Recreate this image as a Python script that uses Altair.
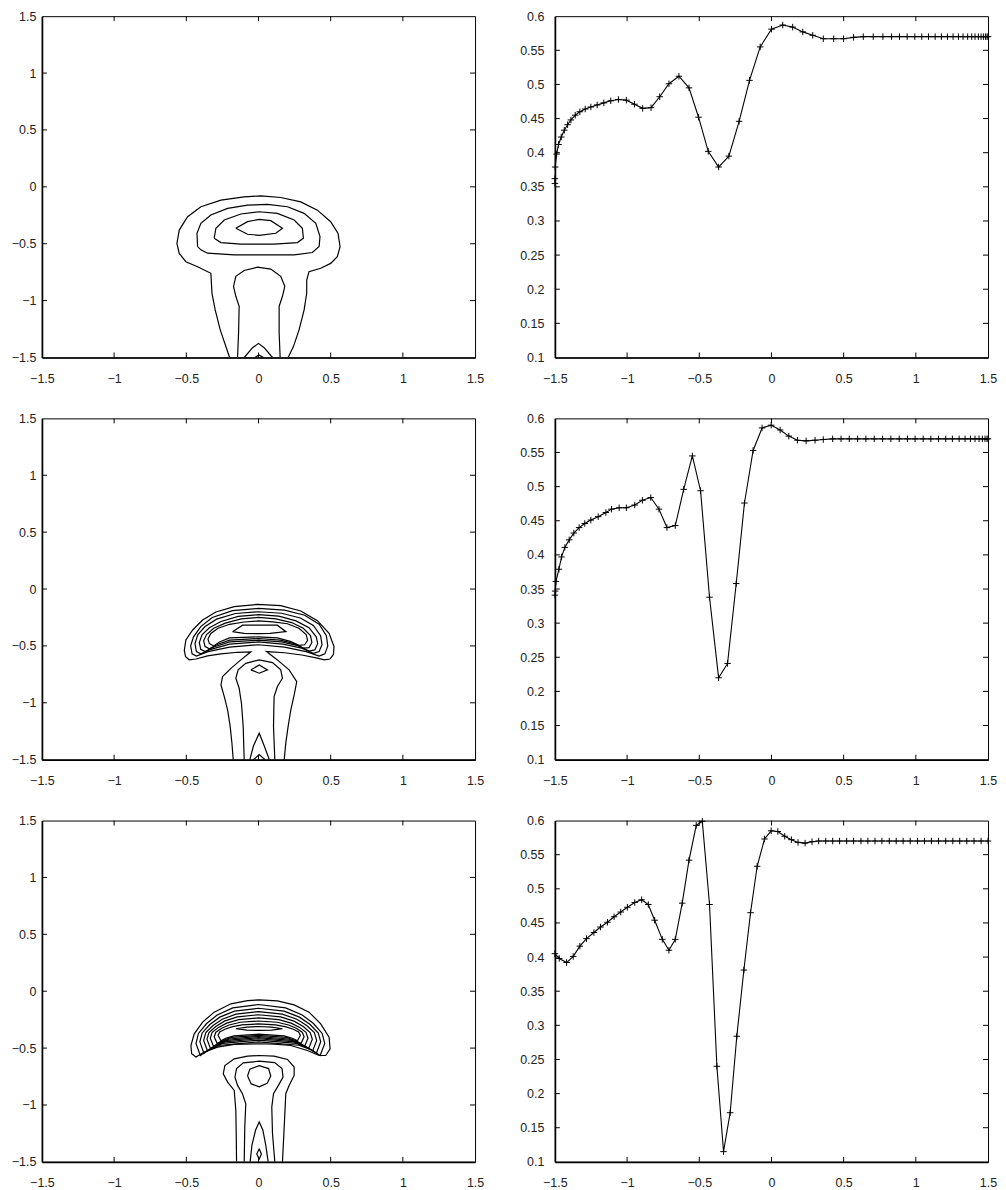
import altair as alt
import pandas as pd

# ---------------- axis tick values ----------------
C_TICKS = [-1.5, -1, -0.5, 0, 0.5, 1, 1.5]
C_INNER = [-1, -0.5, 0, 0.5, 1]
P_YTICKS = [0.1, 0.15, 0.2, 0.25, 0.3, 0.35, 0.4, 0.45, 0.5, 0.55, 0.6]
P_YINNER = [0.15, 0.2, 0.25, 0.3, 0.35, 0.4, 0.45, 0.5, 0.55]

# ---------------- contour lines, panel 1 (x, y) ----------------
P1_C1 = [(-0.200, -1.500), (-0.265, -1.257), (-0.300, -1.082), (-0.322, -0.936), (-0.330, -0.760),
         (-0.422, -0.702), (-0.503, -0.658), (-0.549, -0.585), (-0.565, -0.497), (-0.549, -0.380),
         (-0.491, -0.263), (-0.399, -0.175), (-0.260, -0.117), (-0.099, -0.088), (0.016, -0.079),
         (0.154, -0.094), (0.293, -0.132), (0.408, -0.205), (0.500, -0.307), (0.551, -0.409),
         (0.565, -0.526), (0.546, -0.614), (0.500, -0.673), (0.431, -0.716), (0.350, -0.746),
         (0.334, -0.819), (0.334, -0.936), (0.316, -1.082), (0.281, -1.257), (0.242, -1.404),
         (0.205, -1.500)]
P1_C2 = [(-0.422, -0.525), (-0.426, -0.408), (-0.399, -0.321), (-0.330, -0.248), (-0.214, -0.190),
         (-0.076, -0.160), (0.062, -0.155), (0.201, -0.175), (0.316, -0.233), (0.397, -0.321),
         (0.426, -0.437), (0.420, -0.525), (0.373, -0.577), (0.247, -0.598), (0.062, -0.598),
         (-0.168, -0.598), (-0.353, -0.583), (-0.399, -0.554), (-0.422, -0.525)]
P1_C3 = [(-0.307, -0.452), (-0.295, -0.364), (-0.237, -0.292), (-0.122, -0.239), (0.005, -0.219),
         (0.131, -0.233), (0.247, -0.292), (0.304, -0.364), (0.311, -0.452), (0.270, -0.490),
         (0.108, -0.504), (-0.122, -0.504), (-0.260, -0.490), (-0.307, -0.452)]
P1_C4 = [(-0.157, -0.364), (-0.076, -0.306), (0.005, -0.286), (0.085, -0.297), (0.166, -0.364),
         (0.120, -0.408), (0.005, -0.426), (-0.076, -0.417), (-0.157, -0.364)]
P1_C5 = [(-0.145, -1.500), (-0.138, -1.283), (-0.134, -1.050), (-0.157, -0.962), (-0.173, -0.875),
         (-0.157, -0.787), (-0.099, -0.735), (-0.007, -0.706), (0.085, -0.723), (0.154, -0.787),
         (0.182, -0.875), (0.166, -0.962), (0.143, -1.050), (0.143, -1.283), (0.150, -1.500)]
P1_C6 = [(-0.099, -1.500), (-0.041, -1.414), (0.000, -1.376), (0.039, -1.414), (0.097, -1.500)]
P1_C7 = [(-0.025, -1.500), (0.003, -1.478), (0.035, -1.500)]

# ---------------- contour lines, panel 2 ----------------
P2_C1 = [(-0.175, -1.500), (-0.184, -1.355), (-0.196, -1.209), (-0.214, -1.062), (-0.237, -0.945),
         (-0.260, -0.843), (-0.249, -0.770), (-0.191, -0.697), (-0.122, -0.623), (-0.053, -0.552),
         (-0.145, -0.556), (-0.260, -0.570), (-0.353, -0.588), (-0.433, -0.615), (-0.480, -0.622),
         (-0.505, -0.595), (-0.514, -0.540), (-0.503, -0.448), (-0.456, -0.360), (-0.387, -0.272),
         (-0.295, -0.202), (-0.168, -0.155), (-0.007, -0.135), (0.154, -0.146), (0.293, -0.193),
         (0.408, -0.278), (0.489, -0.389), (0.523, -0.506), (0.519, -0.575), (0.495, -0.615),
         (0.455, -0.622), (0.400, -0.605), (0.300, -0.580), (0.180, -0.560), (0.055, -0.550),
         (0.131, -0.623), (0.212, -0.711), (0.265, -0.814), (0.247, -0.931), (0.224, -1.062),
         (0.205, -1.209), (0.189, -1.355), (0.178, -1.500)]
P2_C2 = [(0.00, -0.49), (-0.20, -0.51), (-0.35, -0.55), (-0.43, -0.59), (-0.46, -0.57), (-0.47, -0.50),
         (-0.45, -0.42), (-0.40, -0.33), (-0.32, -0.25), (-0.18, -0.19), (0.00, -0.17), (0.18, -0.185),
         (0.32, -0.23), (0.42, -0.31), (0.47, -0.41), (0.48, -0.50), (0.46, -0.57), (0.42, -0.59),
         (0.33, -0.55), (0.18, -0.51), (0.00, -0.49)]
P2_C3 = [(0.00, -0.465), (-0.20, -0.485), (-0.33, -0.53), (-0.40, -0.57), (-0.43, -0.55), (-0.44, -0.48),
         (-0.42, -0.40), (-0.37, -0.33), (-0.29, -0.265), (-0.16, -0.215), (0.00, -0.20), (0.16, -0.213),
         (0.29, -0.255), (0.38, -0.32), (0.43, -0.41), (0.44, -0.49), (0.42, -0.55), (0.38, -0.565),
         (0.30, -0.52), (0.17, -0.485), (0.00, -0.465)]
P2_C4 = [(0.00, -0.45), (-0.20, -0.465), (-0.31, -0.51), (-0.37, -0.55), (-0.40, -0.53), (-0.41, -0.47),
         (-0.39, -0.40), (-0.34, -0.34), (-0.26, -0.285), (-0.14, -0.24), (0.00, -0.225), (0.14, -0.238),
         (0.26, -0.28), (0.35, -0.34), (0.40, -0.42), (0.41, -0.48), (0.39, -0.535), (0.35, -0.545),
         (0.28, -0.50), (0.16, -0.465), (0.00, -0.45)]
P2_C5 = [(0.00, -0.435), (-0.20, -0.45), (-0.29, -0.49), (-0.34, -0.525), (-0.37, -0.505), (-0.38, -0.455),
         (-0.36, -0.40), (-0.31, -0.345), (-0.23, -0.30), (-0.12, -0.263), (0.00, -0.25), (0.12, -0.262),
         (0.23, -0.295), (0.31, -0.345), (0.36, -0.41), (0.37, -0.47), (0.35, -0.515), (0.31, -0.52),
         (0.25, -0.48), (0.15, -0.45), (0.00, -0.435)]
P2_C6 = [(0.00, -0.42), (-0.20, -0.43), (-0.27, -0.465), (-0.31, -0.50), (-0.34, -0.48), (-0.35, -0.44),
         (-0.33, -0.39), (-0.28, -0.345), (-0.20, -0.31), (-0.10, -0.29), (0.00, -0.28), (0.10, -0.288),
         (0.20, -0.305), (0.28, -0.345), (0.33, -0.40), (0.34, -0.45), (0.32, -0.49), (0.28, -0.495),
         (0.22, -0.46), (0.13, -0.43), (0.00, -0.42)]
P2_C7 = [(-0.18, -0.375), (-0.11, -0.318), (0.13, -0.318), (0.19, -0.375), (0.08, -0.39), (0.00, -0.392),
         (-0.10, -0.39), (-0.18, -0.375)]
P2_C8 = [(-0.099, -1.500), (-0.106, -1.209), (-0.118, -1.004), (-0.134, -0.872), (-0.157, -0.784),
         (-0.141, -0.711), (-0.088, -0.653), (0.005, -0.623), (0.097, -0.647), (0.154, -0.711),
         (0.166, -0.784), (0.131, -0.857), (0.108, -0.945), (0.104, -1.209), (0.113, -1.500)]
P2_C9 = [(-0.053, -0.711), (0.005, -0.667), (0.062, -0.711), (0.005, -0.740), (-0.053, -0.711)]
P2_C10 = [(-0.060, -1.500), (-0.035, -1.380), (0.005, -1.267), (0.040, -1.380), (0.075, -1.500)]
P2_C11 = [(-0.035, -1.500), (0.005, -1.455), (0.045, -1.500)]

# ---------------- contour lines, panel 3 ----------------
P3_C1 = [(0.005, -0.462), (-0.168, -0.468), (-0.284, -0.492), (-0.376, -0.535), (-0.433, -0.579),
         (-0.463, -0.550), (-0.468, -0.477), (-0.445, -0.375), (-0.387, -0.272), (-0.307, -0.184),
         (-0.191, -0.111), (-0.076, -0.082), (0.005, -0.076), (0.131, -0.085), (0.247, -0.120),
         (0.350, -0.184), (0.431, -0.287), (0.489, -0.404), (0.496, -0.506), (0.466, -0.565),
         (0.420, -0.565), (0.339, -0.521), (0.224, -0.477), (0.108, -0.465), (0.005, -0.462)]
P3_C2 = [(0, -0.445), (-0.264, -0.475), (-0.351, -0.519), (-0.403, -0.565), (-0.433, -0.46),
         (-0.416, -0.371), (-0.359, -0.284), (-0.286, -0.209), (-0.178, -0.147), (0, -0.117),
         (0.188, -0.147), (0.303, -0.209), (0.381, -0.284), (0.441, -0.371), (0.459, -0.46),
         (0.427, -0.565), (0.372, -0.519), (0.280, -0.475), (0, -0.445)]
P3_C3 = [(0, -0.430), (-0.248, -0.459), (-0.329, -0.501), (-0.378, -0.545), (-0.406, -0.445),
         (-0.390, -0.367), (-0.337, -0.293), (-0.268, -0.228), (-0.166, -0.175), (0, -0.150),
         (0.177, -0.175), (0.284, -0.228), (0.358, -0.293), (0.414, -0.367), (0.431, -0.445),
         (0.401, -0.545), (0.349, -0.501), (0.263, -0.459), (0, -0.430)]
P3_C4 = [(0, -0.418), (-0.232, -0.445), (-0.308, -0.484), (-0.353, -0.525), (-0.380, -0.433),
         (-0.365, -0.364), (-0.315, -0.301), (-0.251, -0.247), (-0.156, -0.201), (0, -0.180),
         (0.165, -0.201), (0.266, -0.247), (0.334, -0.301), (0.387, -0.364), (0.403, -0.433),
         (0.375, -0.525), (0.326, -0.484), (0.246, -0.445), (0, -0.418)]
P3_C5 = [(0, -0.408), (-0.218, -0.432), (-0.289, -0.468), (-0.332, -0.505), (-0.357, -0.423),
         (-0.343, -0.363), (-0.296, -0.310), (-0.236, -0.263), (-0.146, -0.225), (0, -0.207),
         (0.153, -0.225), (0.246, -0.263), (0.310, -0.310), (0.358, -0.363), (0.373, -0.423),
         (0.347, -0.505), (0.302, -0.468), (0.228, -0.432), (0, -0.408)]
P3_C6 = [(0, -0.398), (-0.204, -0.420), (-0.271, -0.452), (-0.311, -0.485), (-0.334, -0.413),
         (-0.321, -0.361), (-0.277, -0.318), (-0.220, -0.281), (-0.137, -0.250), (0, -0.235),
         (0.141, -0.250), (0.226, -0.281), (0.285, -0.318), (0.329, -0.361), (0.343, -0.413),
         (0.319, -0.485), (0.278, -0.452), (0.209, -0.420), (0, -0.398)]
P3_C7 = [(0, -0.388), (-0.187, -0.406), (-0.249, -0.433), (-0.286, -0.460), (-0.307, -0.400),
         (-0.295, -0.360), (-0.255, -0.326), (-0.203, -0.297), (-0.126, -0.273), (0, -0.262),
         (0.130, -0.273), (0.209, -0.297), (0.262, -0.326), (0.303, -0.360), (0.316, -0.400),
         (0.294, -0.460), (0.256, -0.433), (0.193, -0.406), (0, -0.388)]
P3_C8 = [(0, -0.378), (-0.171, -0.392), (-0.227, -0.413), (-0.260, -0.435), (-0.280, -0.388),
         (-0.269, -0.358), (-0.232, -0.334), (-0.185, -0.313), (-0.115, -0.296), (0, -0.288),
         (0.119, -0.296), (0.191, -0.313), (0.241, -0.334), (0.278, -0.358), (0.290, -0.388),
         (0.270, -0.435), (0.235, -0.413), (0.177, -0.392), (0, -0.378)]
P3_C9 = [(-0.157, -0.330), (-0.080, -0.315), (0.000, -0.310), (0.090, -0.315), (0.166, -0.330),
         (0.090, -0.342), (0.000, -0.345), (-0.080, -0.342), (-0.157, -0.330)]
P3_C10 = [(-0.152, -1.500), (-0.154, -1.267), (-0.157, -1.048), (-0.168, -0.872), (-0.214, -0.799),
          (-0.244, -0.726), (-0.233, -0.653), (-0.168, -0.594), (-0.076, -0.571), (0.005, -0.565),
          (0.108, -0.571), (0.201, -0.600), (0.247, -0.667), (0.247, -0.740), (0.212, -0.828),
          (0.189, -0.901), (0.178, -1.194), (0.166, -1.500)]
P3_C11 = [(-0.099, -1.500), (-0.095, -1.194), (-0.088, -0.989), (-0.111, -0.901), (-0.145, -0.828),
          (-0.163, -0.755), (-0.152, -0.680), (-0.105, -0.630), (0.005, -0.615), (0.112, -0.628),
          (0.163, -0.680), (0.170, -0.755), (0.138, -0.828), (0.104, -0.901), (0.092, -1.018),
          (0.097, -1.253), (0.113, -1.500)]
P3_C12 = [(-0.076, -0.745), (-0.060, -0.685), (0.005, -0.655), (0.070, -0.680), (0.085, -0.745),
          (0.060, -0.810), (0.005, -0.840), (-0.050, -0.815), (-0.076, -0.745)]
P3_C13 = [(-0.058, -1.500), (-0.045, -1.350), (-0.020, -1.220), (0.005, -1.150), (0.030, -1.220),
          (0.050, -1.350), (0.067, -1.500)]
P3_C14 = [(0.005, -1.384), (0.020, -1.430), (0.005, -1.475), (-0.012, -1.430), (0.005, -1.384)]

# ---------------- profile series (right column) ----------------
R1_X = [-1.500, -1.500, -1.498, -1.488, -1.475, -1.456, -1.435, -1.412, -1.389, -1.359, -1.327, -1.290,
        -1.251, -1.207, -1.161, -1.113, -1.060, -1.005, -0.949, -0.892, -0.834, -0.774, -0.710, -0.641,
        -0.571, -0.505, -0.438, -0.366, -0.295, -0.224, -0.152, -0.078, 0.000, 0.078, 0.147, 0.217,
        0.286, 0.359, 0.431, 0.500, 0.569, 0.636, 0.705, 0.772, 0.832, 0.887, 0.940, 0.993, 1.041,
        1.088, 1.134, 1.177, 1.219, 1.258, 1.295, 1.327, 1.359, 1.387, 1.410, 1.433, 1.452, 1.468,
        1.482, 1.493, 1.500]
R1_Y = [0.355, 0.362, 0.379, 0.398, 0.412, 0.423, 0.433, 0.441, 0.448, 0.455, 0.460, 0.464,
        0.467, 0.470, 0.473, 0.476, 0.478, 0.477, 0.471, 0.465, 0.466, 0.482, 0.501, 0.512,
        0.495, 0.452, 0.402, 0.379, 0.395, 0.446, 0.506, 0.555, 0.581, 0.587, 0.584, 0.577,
        0.572, 0.567, 0.567, 0.567, 0.569, 0.570, 0.570, 0.570, 0.570, 0.570, 0.570, 0.570, 0.570,
        0.570, 0.570, 0.570, 0.570, 0.570, 0.570, 0.570, 0.570, 0.570, 0.570, 0.570, 0.570, 0.570,
        0.570, 0.570, 0.570]

R2_X = [-1.500, -1.498, -1.493, -1.472, -1.454, -1.431, -1.401, -1.369, -1.332, -1.293, -1.251, -1.200,
        -1.147, -1.108, -1.055, -1.005, -0.947, -0.894, -0.836, -0.779, -0.724, -0.666, -0.608, -0.548,
        -0.491, -0.429, -0.366, -0.304, -0.244, -0.187, -0.127, -0.065, -0.002, 0.060, 0.120, 0.180,
        0.240, 0.302, 0.359, 0.424, 0.482, 0.539, 0.597, 0.654, 0.712, 0.770, 0.827, 0.885, 0.942,
        0.995, 1.051, 1.104, 1.157, 1.207, 1.253, 1.300, 1.341, 1.378, 1.410, 1.438, 1.461, 1.479,
        1.493, 1.500]
R2_Y = [0.341, 0.347, 0.361, 0.379, 0.397, 0.411, 0.422, 0.432, 0.440, 0.446, 0.451, 0.456,
        0.462, 0.467, 0.469, 0.469, 0.473, 0.480, 0.484, 0.467, 0.440, 0.443, 0.496, 0.545,
        0.494, 0.338, 0.220, 0.241, 0.358, 0.476, 0.553, 0.586, 0.590, 0.583, 0.574, 0.568,
        0.567, 0.568, 0.569, 0.570, 0.570, 0.570, 0.570, 0.570, 0.570, 0.570, 0.570, 0.570, 0.570,
        0.570, 0.570, 0.570, 0.570, 0.570, 0.570, 0.570, 0.570, 0.570, 0.570, 0.570, 0.570, 0.570,
        0.570, 0.570]

R3_X = [-1.500, -1.470, -1.419, -1.373, -1.327, -1.281, -1.230, -1.184, -1.136, -1.090, -1.044, -0.998,
        -0.947, -0.899, -0.853, -0.809, -0.756, -0.710, -0.666, -0.618, -0.571, -0.521, -0.479, -0.429,
        -0.378, -0.332, -0.286, -0.240, -0.191, -0.145, -0.099, -0.048, -0.002, 0.044, 0.092, 0.138,
        0.184, 0.233, 0.281, 0.327, 0.376, 0.424, 0.472, 0.521, 0.569, 0.620, 0.668, 0.717, 0.765,
        0.816, 0.864, 0.912, 0.961, 1.012, 1.060, 1.108, 1.157, 1.207, 1.256, 1.304, 1.353, 1.403,
        1.452, 1.500]
R3_Y = [0.405, 0.398, 0.392, 0.401, 0.416, 0.427, 0.436, 0.444, 0.451, 0.459, 0.466, 0.473,
        0.480, 0.484, 0.477, 0.454, 0.426, 0.410, 0.426, 0.479, 0.542, 0.593, 0.599, 0.477,
        0.240, 0.115, 0.172, 0.284, 0.381, 0.465, 0.533, 0.573, 0.585, 0.584, 0.577, 0.572,
        0.568, 0.567, 0.569, 0.570, 0.570, 0.570, 0.570, 0.570, 0.570, 0.570, 0.570, 0.570, 0.570,
        0.570, 0.570, 0.570, 0.570, 0.570, 0.570, 0.570, 0.570, 0.570, 0.570, 0.570, 0.570, 0.570,
        0.570, 0.570]

PANEL1 = [P1_C1, P1_C2, P1_C3, P1_C4, P1_C5, P1_C6, P1_C7]
PANEL2 = [P2_C1, P2_C2, P2_C3, P2_C4, P2_C5, P2_C6, P2_C7, P2_C8, P2_C9, P2_C10, P2_C11]
PANEL3 = [P3_C1, P3_C2, P3_C3, P3_C4, P3_C5, P3_C6, P3_C7, P3_C8, P3_C9, P3_C10, P3_C11,
          P3_C12, P3_C13, P3_C14]

# ---------------- layout / style ----------------
W, H = 434, 342
TICK = 5
LABEL = "replace('' + datum.value, '-', '\u2212')"


def contour_frame(contours):
    rows = []
    for cid, pts in enumerate(contours):
        for k, (x, y) in enumerate(pts):
            rows.append({"cid": cid, "ord": k, "x": x, "y": y})
    return pd.DataFrame(rows)


def inward_ticks(X, Y, xin, yin):
    xt = pd.DataFrame({"x": xin})
    yt = pd.DataFrame({"y": yin})
    st = dict(color="black", strokeWidth=1)
    return [
        alt.Chart(xt).mark_rule(**st).encode(x=X, y=alt.value(H), y2=alt.value(H - TICK)),
        alt.Chart(xt).mark_rule(**st).encode(x=X, y=alt.value(0), y2=alt.value(TICK)),
        alt.Chart(yt).mark_rule(**st).encode(y=Y, x=alt.value(0), x2=alt.value(TICK)),
        alt.Chart(yt).mark_rule(**st).encode(y=Y, x=alt.value(W), x2=alt.value(W - TICK)),
    ]


def x_enc():
    return alt.X("x:Q", scale=alt.Scale(domain=[-1.5, 1.5], nice=False, zero=False),
                 axis=alt.Axis(values=C_TICKS, labelExpr=LABEL, title=None, labelFlush=False,
                               labelOverlap=False, labelPadding=15))


def contour_panel(contours):
    df = contour_frame(contours)
    X = x_enc()
    Y = alt.Y("y:Q", scale=alt.Scale(domain=[-1.5, 1.5], nice=False, zero=False),
              axis=alt.Axis(values=C_TICKS, labelExpr=LABEL, title=None, labelOverlap=False,
                            labelPadding=6))
    lines = alt.Chart(df).mark_line(color="black", strokeWidth=1.2, clip=True).encode(
        x=X, y=Y, detail="cid:N", order="ord:Q")
    return alt.layer(lines, *inward_ticks(X, Y, C_INNER, C_INNER)).properties(width=W, height=H)


def profile_panel(xs, ys):
    df = pd.DataFrame({"x": xs, "y": ys, "i": list(range(len(xs)))})
    X = x_enc()
    Y = alt.Y("y:Q", scale=alt.Scale(domain=[0.1, 0.6], nice=False, zero=False),
              axis=alt.Axis(values=P_YTICKS, labelExpr=LABEL, title=None, labelOverlap=False,
                            labelPadding=11))
    line = alt.Chart(df).mark_line(color="black", strokeWidth=1.1, clip=True).encode(
        x=X, y=Y, order="i:Q")
    pts = alt.Chart(df).mark_point(shape="M-1,0L1,0M0,-1L0,1", filled=False, color="black",
                                   size=42, strokeWidth=1, opacity=1).encode(x=X, y=Y)
    return alt.layer(line, pts, *inward_ticks(X, Y, C_INNER, P_YINNER)).properties(width=W, height=H)


chart = alt.concat(
    contour_panel(PANEL1), profile_panel(R1_X, R1_Y),
    contour_panel(PANEL2), profile_panel(R2_X, R2_Y),
    contour_panel(PANEL3), profile_panel(R3_X, R3_Y),
    columns=2,
    spacing={"row": 61, "column": 80},
    bounds="flush",
).properties(
    padding={"left": 2, "top": 0, "right": 0, "bottom": 0}
).configure_view(
    stroke="black", strokeWidth=1
).configure_axis(
    grid=False, ticks=False, domainColor="black", domainWidth=1.7,
    labelFont="Liberation Sans", labelFontSize=12.5, labelColor="#222222"
)

chart.save("out.html", embed_options={"renderer": "svg", "actions": False})
